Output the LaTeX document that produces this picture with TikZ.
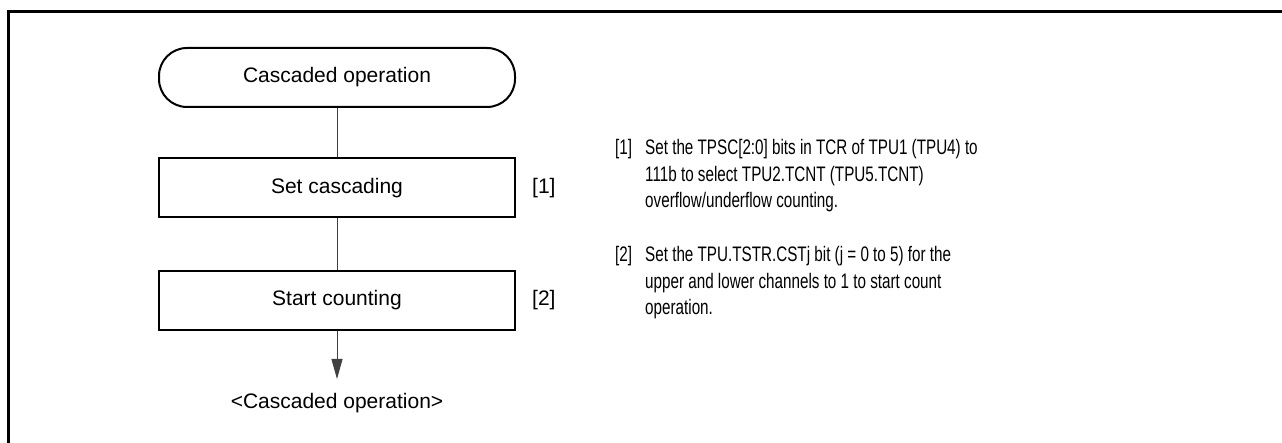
\documentclass[tikz,border=0pt]{standalone}
\usepackage{fontspec}
\setmainfont{Liberation Sans}
\newfontfamily\narrowfont[FakeStretch=0.725]{Liberation Sans}
\usetikzlibrary{arrows.meta}
\begin{document}
\begin{tikzpicture}[x=1pt,y=-1pt,
  every node/.style={font=\fontsize{21}{26.35}\selectfont},
  flowbox/.style={draw, line width=2pt, minimum width=356pt, minimum height=59pt,
    inner sep=0pt, text height=15pt, text depth=4pt},
  termbox/.style={flowbox, rounded corners=28pt},
  link/.style={line width=1pt, draw=black!75},
  plain/.style={inner sep=0pt, anchor=base west},
  note/.style={plain, font=\narrowfont\fontsize{21}{26.35}\selectfont}]
\useasboundingbox (0,0) rectangle (1282,443);
\draw[line width=3pt] (8.5,443) -- (8.5,11.5) -- (1282,11.5);

\node[termbox] (t) at (337,77.5) {Cascaded operation};
\node[flowbox] (b1) at (337,188) {Set cascading};
\node[flowbox] (b2) at (337,300.5) {Start counting};
\coordinate (arrowend) at (337,379);
\node[inner sep=0pt, anchor=base] (endlbl) at (337,408) {<Cascaded operation>};

\draw[link] (t) -- (b1);
\draw[link] (b1) -- (b2);
\draw[link, -{Triangle[length=20pt,width=11pt]}] (b2) -- (arrowend);

\node[plain] (n1) at (532,193.3) {[1]};
\node[plain] (n2) at (532,306) {[2]};

\node[note] (r1) at (615,155) {[1]};
\node[note] (d1) at (645,155) {\begin{tabular}[t]{@{}l@{}}Set the TPSC[2:0] bits in TCR of TPU1 (TPU4) to\\111b to select TPU2.TCNT (TPU5.TCNT)\\overflow/underflow counting.\end{tabular}};
\node[note] (r2) at (615,261.7) {[2]};
\node[note] (d2) at (645,261.7) {\begin{tabular}[t]{@{}l@{}}Set the TPU.TSTR.CSTj bit (j = 0 to 5) for the\\upper and lower channels to 1 to start count\\operation.\end{tabular}};
\end{tikzpicture}
\end{document}
